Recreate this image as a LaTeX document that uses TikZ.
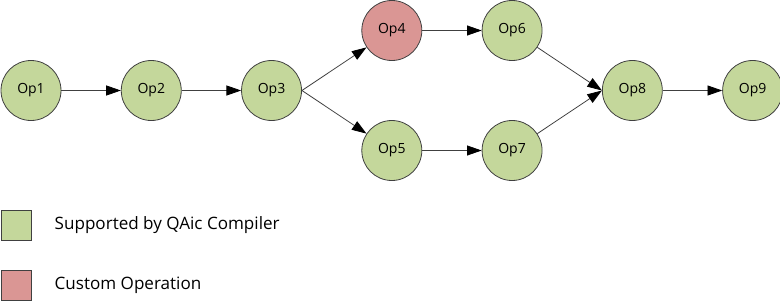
\documentclass[tikz,border=0pt]{standalone}
\usepackage{fontspec}
\setmainfont{Open Sans}
\usepackage{xcolor}
\usetikzlibrary{arrows.meta,positioning}

\definecolor{opgreen}{HTML}{C4D79B}
\definecolor{opred}{HTML}{DA9694}
\definecolor{opline}{HTML}{404040}

\begin{document}
\begin{tikzpicture}[
  x=0.75pt, y=-0.75pt,
  node distance=44.6pt,
  every node/.style={font=\fontsize{10.5pt}{12pt}\selectfont},
  op/.style={circle, draw=opline, line width=0.6pt, minimum size=45pt, inner sep=0pt},
  sup/.style={op, fill=opgreen},
  cust/.style={op, fill=opred},
  key/.style={draw=opline, line width=0.6pt, minimum size=22.5pt, inner sep=0pt},
  keytext/.style={anchor=west, font=\fontsize{12.8pt}{14pt}\selectfont},
  arr/.style={-{Triangle[length=11pt,width=7.5pt,black]}, draw=opline, line width=0.6pt},
]
  \useasboundingbox (0,0) rectangle (780,307);

  \node[sup] (o1) at (31,90.5) {Op1};
  \node[sup, right=of o1] (o2) {Op2};
  \node[sup, right=of o2] (o3) {Op3};
  \node[cust, right=of o3, yshift=45pt]  (o4) {Op4};
  \node[sup, right=of o3, yshift=-45pt]  (o5) {Op5};
  \node[sup, right=of o4] (o6) {Op6};
  \node[sup, right=of o5] (o7) {Op7};
  \node[sup, right=of o6, yshift=-45pt] (o8) {Op8};
  \node[sup, right=of o8] (o9) {Op9};

  \draw[arr] (o1) -- (o2);
  \draw[arr] (o2) -- (o3);
  \draw[arr] (o3.east) -- (o4);
  \draw[arr] (o3.east) -- (o5);
  \draw[arr] (o4) -- (o6);
  \draw[arr] (o5) -- (o7);
  \draw[arr] (o6) -- (o8.west);
  \draw[arr] (o7) -- (o8.west);
  \draw[arr] (o8) -- (o9);

  % legend
  \node[key, fill=opgreen] (k1) at (16,225) {};
  \node[key, fill=opred]   (k2) at (16,285) {};
  \node[keytext] (t1) at (50,225) {Supported by QAic Compiler};
  \node[keytext] (t2) at (50,285) {Custom Operation};
\end{tikzpicture}
\end{document}
